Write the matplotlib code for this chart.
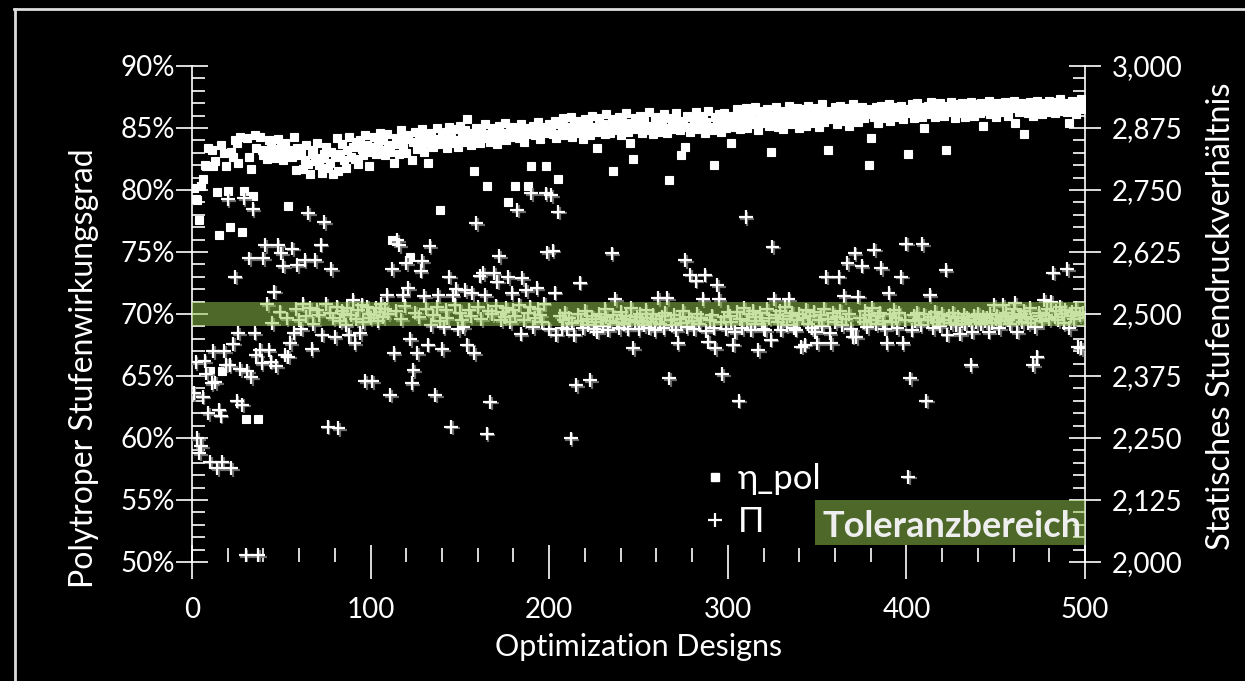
import numpy as np
import matplotlib.pyplot as plt
import matplotlib.patheffects as pe
from matplotlib.lines import Line2D
from matplotlib.patches import Rectangle
from matplotlib.ticker import MultipleLocator, FuncFormatter

plt.rcParams['font.family'] = ['Lato', 'DejaVu Sans']

designs = np.arange(1, 501)

# polytropic stage efficiency in %, designs 1..500
eta_001_100 = [
    80.2, 79.3, 79.2, 77.6, 80.3, 80.9, 82.0, 81.9, 83.4, 65.4, 83.2, 81.9, 82.3, 79.8, 76.4, 83.6, 65.4, 83.0, 81.9, 79.9,
    77.0, 83.1, 82.7, 84.0, 83.8, 82.2, 84.3, 76.6, 79.9, 61.5, 84.2, 82.7, 81.7, 79.5, 84.4, 83.4, 61.5, 84.3, 83.2, 82.8,
    83.1, 82.5, 84.0, 83.6, 82.9, 83.3, 82.6, 84.1, 82.8, 83.5, 82.4, 83.8, 82.9, 78.7, 83.2, 82.7, 84.3, 81.6, 83.4, 82.8,
    83.0, 81.7, 82.4, 83.6, 82.1, 81.3, 82.9, 83.2, 82.3, 83.8, 82.0, 82.6, 81.4, 82.9, 83.5, 81.8, 82.2, 83.1, 81.3, 82.7,
    84.2, 81.5, 82.9, 83.7, 82.4, 81.8, 83.2, 84.3, 82.7, 83.5, 82.5, 83.9, 82.1, 84.0, 83.3, 82.8, 84.4, 83.6, 81.9, 83.1,
]
eta_101_200 = [
    83.5, 84.3, 82.9, 83.8, 84.6, 83.2, 84.0, 82.8, 84.5, 83.6, 83.1, 76.0, 82.2, 84.2, 83.7, 82.9, 84.8, 83.4, 84.1, 83.0,
    84.4, 74.6, 82.4, 83.9, 84.7, 83.3, 84.2, 83.6, 84.9, 83.1, 84.3, 82.2, 83.8, 84.6, 83.5, 84.1, 85.0, 83.7, 78.4, 84.4,
    83.9, 84.7, 83.4, 85.1, 84.2, 83.8, 84.9, 84.0, 83.5, 85.2, 84.4, 83.9, 84.8, 85.7, 84.1, 83.6, 84.6, 81.5, 85.0, 84.3,
    83.8, 84.9, 84.2, 85.3, 80.3, 84.5, 83.9, 85.0, 84.4, 84.8, 83.7, 85.2, 84.1, 84.6, 85.4, 84.0, 79.0, 84.7, 85.1, 84.3,
    80.3, 84.9, 84.2, 85.3, 84.6, 83.9, 85.0, 80.3, 84.5, 81.9, 85.2, 84.4, 84.8, 85.5, 84.1, 84.7, 85.1, 81.9, 84.6, 85.3,
]
eta_201_300 = [
    85.0, 84.5, 85.6, 84.2, 80.9, 85.3, 84.8, 85.8, 84.4, 85.1, 84.7, 85.9, 84.3, 85.4, 84.9, 85.6, 84.6, 85.2, 84.1, 85.7,
    84.8, 85.5, 84.4, 86.0, 85.1, 84.7, 83.4, 85.8, 84.9, 85.3, 84.5, 86.1, 85.0, 84.6, 85.7, 81.5, 85.2, 84.8, 85.9, 84.4,
    85.5, 85.0, 86.2, 84.7, 83.8, 85.4, 82.5, 85.8, 84.9, 85.3, 86.0, 84.6, 85.6, 85.1, 84.8, 86.3, 85.2, 84.5, 85.7, 85.0,
    85.9, 84.7, 85.4, 86.1, 85.0, 84.6, 80.8, 85.8, 85.3, 84.9, 86.2, 85.5, 84.8, 82.8, 85.6, 83.5, 86.0, 85.1, 84.7, 85.9,
    85.4, 86.3, 84.9, 85.7, 85.2, 86.0, 84.6, 85.5, 86.4, 85.1, 84.8, 82.0, 85.9, 85.3, 86.1, 84.7, 85.6, 86.2, 85.0, 85.8,
]
eta_301_400 = [
    85.4, 83.8, 86.0, 85.1, 86.5, 85.7, 84.9, 86.2, 85.5, 86.6, 85.0, 85.9, 86.3, 85.3, 86.7, 85.6, 84.8, 86.1, 85.4, 86.4,
    85.8, 86.5, 85.2, 83.1, 86.0, 85.6, 86.7, 85.1, 86.3, 85.7, 84.9, 86.4, 85.5, 86.8, 85.9, 85.3, 86.2, 85.6, 86.6, 85.0,
    86.1, 85.7, 86.5, 85.2, 86.8, 85.9, 85.4, 86.3, 85.8, 86.6, 85.1, 86.0, 86.9, 85.5, 86.2, 83.2, 85.7, 86.4, 85.9, 86.7,
    85.3, 86.1, 86.8, 85.6, 86.3, 85.9, 86.6, 85.2, 86.0, 86.9, 85.7, 86.4, 85.5, 86.2, 86.7, 85.8, 86.1, 86.5, 82.0, 84.2,
    86.3, 85.9, 86.7, 85.4, 86.2, 86.8, 85.8, 86.5, 86.0, 86.9, 85.6, 86.4, 86.1, 86.7, 85.9, 86.3, 86.8, 85.7, 86.5, 86.2,
]
eta_401_500 = [
    82.9, 86.4, 86.9, 85.8, 86.6, 87.0, 86.2, 86.7, 85.9, 85.0, 86.5, 86.8, 86.1, 87.1, 86.4, 85.9, 86.7, 86.3, 87.0, 86.5,
    86.0, 83.2, 86.8, 86.3, 87.1, 86.6, 85.8, 86.9, 86.2, 86.7, 87.0, 86.4, 85.9, 86.8, 86.3, 87.1, 86.6, 86.0, 86.9, 86.5,
    86.2, 87.0, 85.2, 86.7, 86.4, 87.2, 86.1, 86.8, 86.5, 85.9, 87.0, 86.6, 86.3, 86.9, 87.1, 86.4, 86.0, 86.8, 86.6, 87.2,
    85.4, 86.7, 86.3, 87.0, 86.5, 84.5, 86.9, 86.2, 87.1, 86.6, 86.0, 86.8, 87.2, 86.4, 86.9, 86.1, 87.0, 86.7, 86.3, 87.2,
    86.5, 86.9, 86.2, 87.1, 86.6, 87.3, 86.4, 86.8, 87.0, 86.3, 85.4, 86.9, 87.2, 86.6, 86.1, 87.0, 86.7, 87.3, 86.5, 86.9,
]

# static stage pressure ratio (x1000), designs 1..500
pi_001_100 = [
    2340, 2403, 2250, 2220, 2233, 2333, 2405, 2380, 2300, 2202, 2360, 2425, 2362, 2189, 2307, 2295, 2202, 2425, 2398, 2731,
    2397, 2189, 2440, 2575, 2325, 2462, 2389, 2317, 2733, 2014, 2385, 2612, 2372, 2711, 2462, 2417, 2014, 2428, 2401, 2612,
    2639, 2520, 2427, 2404, 2481, 2545, 2395, 2639, 2505, 2622, 2597, 2417, 2491, 2414, 2441, 2632, 2461, 2510, 2599, 2488,
    2470, 2520, 2609, 2495, 2703, 2512, 2429, 2480, 2609, 2508, 2498, 2640, 2458, 2685, 2520, 2273, 2503, 2590, 2491, 2453,
    2515, 2270, 2485, 2506, 2501, 2478, 2512, 2458, 2497, 2528, 2441, 2490, 2508, 2461, 2519, 2483, 2365, 2515, 2500, 2492,
]
pi_101_200 = [
    2364, 2498, 2512, 2486, 2505, 2520, 2493, 2510, 2538, 2501, 2337, 2590, 2421, 2507, 2649, 2639, 2489, 2538, 2516, 2602,
    2552, 2449, 2360, 2387, 2503, 2421, 2494, 2587, 2606, 2536, 2511, 2438, 2637, 2478, 2497, 2337, 2515, 2538, 2485, 2429,
    2474, 2508, 2492, 2575, 2273, 2538, 2519, 2550, 2469, 2503, 2487, 2474, 2548, 2438, 2509, 2496, 2542, 2421, 2683, 2514,
    2577, 2490, 2582, 2538, 2259, 2506, 2323, 2499, 2582, 2517, 2565, 2617, 2488, 2505, 2493, 2512, 2574, 2483, 2542, 2508,
    2496, 2710, 2519, 2460, 2572, 2487, 2548, 2503, 2515, 2743, 2474, 2492, 2552, 2510, 2497, 2484, 2521, 2743, 2624, 2469,
]
pi_201_300 = [
    2740, 2628, 2543, 2458, 2706, 2496, 2471, 2488, 2503, 2469, 2492, 2249, 2481, 2458, 2357, 2499, 2563, 2486, 2472, 2507,
    2490, 2478, 2367, 2495, 2470, 2484, 2464, 2501, 2489, 2476, 2510, 2493, 2468, 2485, 2622, 2498, 2530, 2482, 2471, 2505,
    2490, 2479, 2496, 2470, 2487, 2512, 2431, 2483, 2494, 2469, 2501, 2486, 2477, 2508, 2491, 2472, 2484, 2499, 2467, 2489,
    2532, 2480, 2495, 2471, 2503, 2532, 2370, 2487, 2478, 2498, 2468, 2441, 2490, 2482, 2506, 2609, 2473, 2494, 2579, 2485,
    2470, 2567, 2500, 2479, 2492, 2530, 2579, 2466, 2444, 2488, 2497, 2472, 2431, 2558, 2530, 2484, 2379, 2493, 2470, 2505,
]
pi_301_400 = [
    2496, 2483, 2438, 2464, 2505, 2325, 2490, 2471, 2512, 2695, 2486, 2499, 2468, 2507, 2479, 2493, 2427, 2502, 2485, 2470,
    2468, 2510, 2491, 2448, 2636, 2530, 2497, 2484, 2506, 2468, 2489, 2515, 2478, 2530, 2495, 2503, 2472, 2468, 2488, 2501,
    2434, 2492, 2438, 2509, 2480, 2496, 2471, 2505, 2464, 2441, 2487, 2498, 2476, 2511, 2575, 2490, 2461, 2441, 2502, 2483,
    2494, 2575, 2507, 2478, 2536, 2489, 2602, 2500, 2470, 2454, 2622, 2453, 2535, 2492, 2597, 2484, 2506, 2473, 2497, 2488,
    2512, 2630, 2479, 2495, 2503, 2592, 2486, 2470, 2441, 2542, 2499, 2483, 2508, 2491, 2471, 2502, 2575, 2441, 2487, 2642,
]
pi_401_500 = [
    2172, 2370, 2468, 2497, 2485, 2503, 2490, 2478, 2641, 2499, 2325, 2487, 2538, 2494, 2471, 2505, 2483, 2492, 2476, 2500,
    2488, 2589, 2458, 2496, 2482, 2503, 2491, 2477, 2494, 2460, 2486, 2499, 2480, 2493, 2488, 2397, 2464, 2497, 2484, 2501,
    2489, 2479, 2495, 2486, 2492, 2464, 2500, 2481, 2518, 2490, 2497, 2471, 2485, 2518, 2493, 2502, 2488, 2479, 2496, 2510,
    2522, 2464, 2491, 2499, 2484, 2507, 2493, 2481, 2512, 2489, 2397, 2474, 2414, 2503, 2495, 2486, 2528, 2498, 2510, 2490,
    2525, 2583, 2494, 2506, 2487, 2515, 2499, 2482, 2508, 2590, 2471, 2496, 2504, 2489, 2512, 2433, 2497, 2431, 2503, 2492,
]

eta_pol = np.array(eta_001_100 + eta_101_200 + eta_201_300 + eta_301_400 + eta_401_500)
pi_ratio = np.array(pi_001_100 + pi_101_200 + pi_201_300 + pi_301_400 + pi_401_500) / 1000

tol_low, tol_high = 2.475, 2.525
green = '#96C851'
green_alpha = 0.52

W, H = 1245, 681
fig = plt.figure(figsize=(W / 100, H / 100), dpi=100, facecolor='black')
ax = fig.add_axes([192 / W, 1 - 562 / H, 893 / W, 496 / H])
ax.set_facecolor('black')
ax2 = ax.twinx()

ax.plot(designs, eta_pol, ls='none', marker='s', ms=5.5, mew=0.8,
        mfc='white', mec='white', zorder=3)
ax2.plot(designs, pi_ratio, ls='none', marker='+', ms=10, mew=1.6, color='white', zorder=3,
         path_effects=[pe.SimpleLineShadow(offset=(1.2, -1.2), shadow_color='#777777', alpha=0.9),
                       pe.Normal()])

# tolerance band, drawn over the markers
ax2.axhspan(tol_low, tol_high, color=green, alpha=green_alpha, lw=0, zorder=5)

ax.set_xlim(0, 500)
ax.set_ylim(50, 90)
ax2.set_ylim(2.0, 3.0)

for a in (ax, ax2):
    for s in a.spines.values():
        s.set_visible(False)
ax.spines['left'].set_visible(True)
ax.spines['left'].set_color('white')
ax.spines['left'].set_linewidth(1.2)
ax2.spines['right'].set_visible(True)
ax2.spines['right'].set_color('white')
ax2.spines['right'].set_linewidth(1.2)

ax.xaxis.set_major_locator(MultipleLocator(100))
ax.xaxis.set_minor_locator(MultipleLocator(20))
ax.yaxis.set_major_locator(MultipleLocator(5))
ax.yaxis.set_minor_locator(MultipleLocator(1))
ax2.yaxis.set_major_locator(MultipleLocator(0.125))
ax2.yaxis.set_minor_locator(MultipleLocator(0.025))
ax.yaxis.set_major_formatter(FuncFormatter(lambda v, p: f'{v:.0f}%'))
ax2.yaxis.set_major_formatter(FuncFormatter(lambda v, p: f'{v:,.3f}'.replace('.', ',')))

tick_kw = dict(colors='white', width=1.2, labelsize=20)
ax.tick_params(axis='x', which='major', direction='inout', length=24, pad=13, **tick_kw)
ax.tick_params(axis='x', which='minor', direction='in', length=10, width=1.2, colors='white')
ax.tick_params(axis='y', which='major', direction='inout', length=23, pad=1, **tick_kw)
ax.tick_params(axis='y', which='minor', direction='in', length=9, width=1.2, colors='white')
ax2.tick_params(axis='y', which='major', direction='inout', length=23, pad=8, **tick_kw)
ax2.tick_params(axis='y', which='minor', direction='in', length=9, width=1.2, colors='white')

ax.set_xlabel('Optimization Designs', color='white', fontsize=22)
ax.xaxis.set_label_coords(0.5, -0.143)
ax.set_ylabel('Polytroper Stufenwirkungsgrad', color='white', fontsize=23)
ax.yaxis.set_label_coords(-0.104, 0.39)
ax2.set_ylabel('Statisches Stufendruckverhältnis', color='white', fontsize=23.5)
ax2.yaxis.set_label_coords(1.135, 0.495)

handles = [Line2D([], [], ls='none', marker='s', ms=5.5, mfc='white', mec='white'),
           Line2D([], [], ls='none', marker='+', ms=10, mew=1.6, color='white')]
leg = ax2.legend(handles, ['η_pol', 'Π'], loc='upper left', bbox_to_anchor=(0.5745, 0.199),
                 frameon=False, fontsize=25, handlelength=0.6, handletextpad=0.35,
                 borderpad=0, borderaxespad=0, labelspacing=0.3)
for t in leg.get_texts():
    t.set_color('white')
leg.set_zorder(7)

ax2.add_patch(Rectangle((0.698, 0.034), 0.302, 0.091, transform=ax2.transAxes,
                        fc=green, alpha=green_alpha, lw=0, zorder=6, clip_on=False))
ax2.text(0.851, 0.072, 'Toleranzbereich', transform=ax2.transAxes, ha='center', va='center',
         fontsize=26, fontweight='bold', color='#eeeeee', zorder=7)

# frame around the figure
fig.add_artist(Line2D([14 / W, 1], [1 - 9 / H] * 2, transform=fig.transFigure, color='#dddddd', lw=2))
fig.add_artist(Line2D([15 / W] * 2, [0, 1 - 9 / H], transform=fig.transFigure, color='#dddddd', lw=2))

fig.savefig('out.png', dpi=100, facecolor='black')
